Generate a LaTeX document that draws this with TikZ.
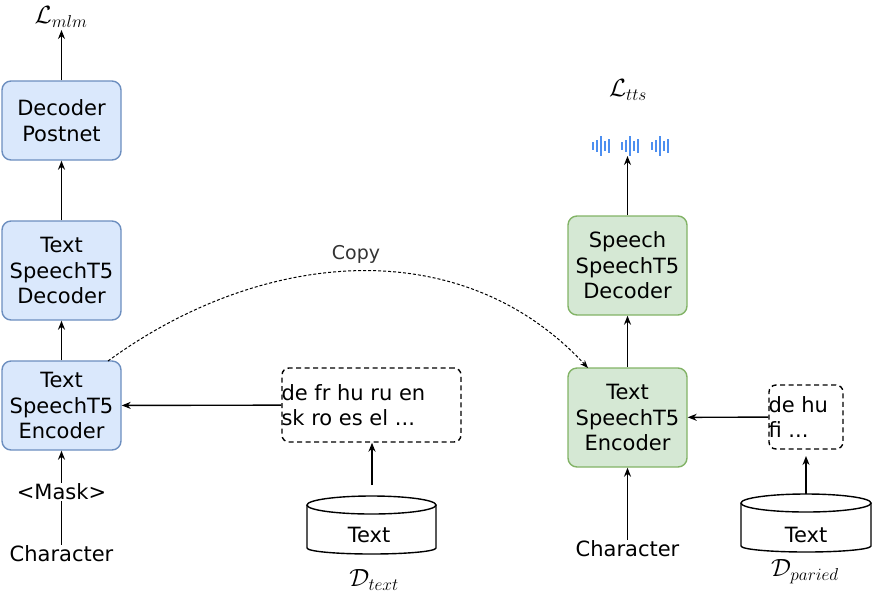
\documentclass[tikz,border=0pt]{standalone}
\usepackage{fontspec}
\setmainfont{DejaVu Sans}
\usetikzlibrary{arrows.meta}
\definecolor{bfill}{HTML}{DAE8FC}\definecolor{bdraw}{HTML}{6C8EBF}
\definecolor{gfill}{HTML}{D5E8D4}\definecolor{gdraw}{HTML}{82B366}
\definecolor{wave}{HTML}{4D8FF0}
\begin{document}
\begin{tikzpicture}[x=1pt,y=-1pt,font=\fontsize{21}{25.5}\selectfont,
 blk/.style={draw=bdraw,fill=bfill,line width=1.4pt,rounded corners=9pt,minimum width=119pt,align=center,inner sep=0pt},
 gblk/.style={draw=gdraw,fill=gfill,line width=1.4pt,rounded corners=9pt,minimum width=119pt,minimum height=99pt,align=center,inner sep=0pt},
 arr/.style={-{Stealth[length=9pt,width=7pt]},line width=1.4pt},
 dbox/.style={draw,dash pattern=on 5pt off 3.5pt,rounded corners=7pt,inner sep=0pt,line width=1.4pt},
 cylb/.style={line width=1.4pt},
 lbl/.style={inner sep=1pt},
 mth/.style={inner sep=1pt,font=\fontsize{23}{25}\selectfont}]
\useasboundingbox (0,0) rectangle (872,595);
% left column
\node[blk,minimum height=79pt] (post) at (61.5,120.5) {Decoder\\Postnet};
\node[blk,minimum height=99pt] (tdec) at (61.5,270.5) {Text\\SpeechT5\\Decoder};
\node[blk,minimum height=89pt] (tenc) at (61.5,405.5) {Text\\SpeechT5\\Encoder};
\node[mth] (lmlm) at (61,17) {$\mathcal{L}_{mlm}$};
\node[lbl] (mask) at (61.5,492) {<Mask>};
\node[lbl] (char1) at (61.5,554) {Character};
\coordinate (lmlmb) at (61.5,30);
\draw[arr] (post.north) -- (lmlmb);
\draw[arr] (tdec) -- (post);
\draw[arr] (tenc) -- (tdec);
\draw[arr] (mask) -- (tenc);
\draw[line width=1.4pt] (char1) -- (mask);
% middle
\node[dbox,minimum width=179pt,minimum height=74pt] (lang1) at (371.5,405) {};
\node[anchor=west,align=left,inner sep=0pt] at (lang1.west) {de fr hu ru en\\sk ro es el ...};
\draw[cylb,fill=white] (307,505) -- (307,548) arc[start angle=180,end angle=0,x radius=64.5,y radius=6] -- (436,505);
\draw[cylb] (371.5,505) ellipse[x radius=64.5,y radius=9];
\node at (369,535) {Text};
\node[mth] (dtext) at (374,580) {$\mathcal{D}_{text}$};
\coordinate (c1t) at (372,485);
\draw[arr] (c1t) -- (lang1.south -| c1t);
\draw[arr] (lang1) -- (tenc);
% right column
\node[gblk] (sdec) at (627.5,265.5) {Speech\\SpeechT5\\Decoder};
\node[gblk] (renc) at (627.5,417.5) {Text\\SpeechT5\\Encoder};
\node[mth] (ltts) at (628,90) {$\mathcal{L}_{tts}$};
\node[lbl] (char2) at (627.5,549) {Character};
\foreach \g in {593,622,652}{
 \foreach \dx/\h in {0/8,4/12,8/20,12/10,16/14}{
  \draw[wave,line width=1.8pt] (\g+\dx,146-\h/2) -- (\g+\dx,146+\h/2);}}
\draw[arr] (sdec.north) -- (627.5,156);
\draw[arr] (renc) -- (sdec);
\draw[arr] (char2) -- (renc);
\node[dbox,minimum width=74pt,minimum height=64pt] (lang2) at (806,417) {};
\node[anchor=west,align=left,inner sep=0pt] at (lang2.west) {de hu\\fi ...};
\draw[cylb] (741,503) -- (741,546) arc[start angle=180,end angle=0,x radius=65,y radius=6] -- (871,503);
\draw[cylb] (806,503) ellipse[x radius=65,y radius=9];
\node at (806,535) {Text};
\node[mth] (dpar) at (805,572) {$\mathcal{D}_{paried}$};
\coordinate (c2t) at (806,494);
\draw[arr] (c2t) -- (806,456);
\draw[arr] (lang2) -- (renc);
% copy
\node[lbl,text=black!80,font=\fontsize{19}{22}\selectfont] (copy) at (356,254) {Copy};
\coordinate (cs) at (108,361);
\coordinate (ce) at (588,368);
\draw[dash pattern=on 3pt off 2pt,-{Stealth[length=8pt,width=6pt]},line width=1pt] (cs) .. controls (260,250) and (460,230) .. (ce);
\end{tikzpicture}
\end{document}
